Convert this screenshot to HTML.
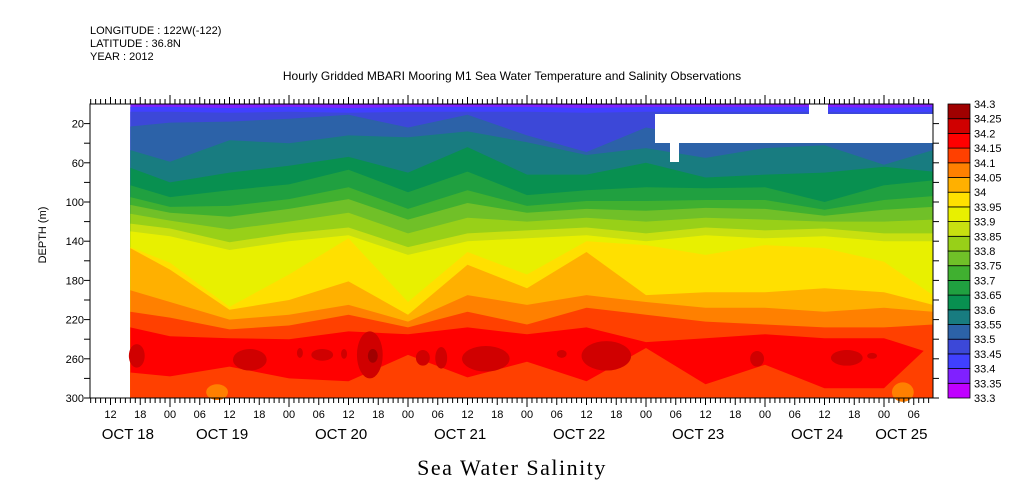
<!DOCTYPE html>
<html><head><meta charset="utf-8"><style>
html,body{margin:0;padding:0;background:#fff;}
svg{display:block;font-family:"Liberation Sans",sans-serif;}
</style></head><body>
<svg id="chart" width="1009" height="504" viewBox="0 0 1009 504">
<text x="90" y="34" font-size="11">LONGITUDE : 122W(-122)</text>
<text x="90" y="47" font-size="11">LATITUDE : 36.8N</text>
<text x="90" y="60" font-size="11">YEAR : 2012</text>
<text x="512" y="80" font-size="12" text-anchor="middle">Hourly Gridded MBARI Mooring M1 Sea Water Temperature and Salinity Observations</text>
<text x="512" y="475" font-size="22" text-anchor="middle" letter-spacing="1.5" font-family="Liberation Serif, serif">Sea Water Salinity</text>
<text transform="translate(46,235) rotate(-90)" font-size="11" text-anchor="middle">DEPTH (m)</text>
<g id="plot"></g>
<g id="axes"></g>
<g id="cbar"></g>
</svg>
<script>
// ---- data ----
const knotHours = [16,24,36,48,60,72,84,96,108,120,132,144,156,168,178];
const levels = [33.3,33.35,33.4,33.45,33.5,33.55,33.6,33.65,33.7,33.75,33.8,33.85,33.9,33.95,34,34.05,34.1,34.15,34.2,34.25,34.3];
const levelColors = ["#c000ff","#8020ff","#4040ff","#3c48d8","#2c62a8","#187c80","#089050","#20a040","#40b030","#70c028","#98d018","#c8e010","#e8f000","#ffe000","#ffb000","#ff8000","#ff4000","#ff0000","#d00000","#a00000"];
const iso3340 = [3,3,4,3,4,3,3,3,4,3,3,3,3,4,3];
const iso3345 = [8,8,9,8,9,8,8,8,9,8,8,8,8,9,8];
const iso3350 = [23,19,18,15,11,24,11,32,49,24,35,35,35,30,30];
const iso3355 = [47,59,37,40,32,34,28,39,52,45,55,45,42,62,47];
const iso3360 = [65,80,70,63,54,70,44,72,72,60,75,72,70,64,69];
const iso3365 = [83,95,88,82,67,90,69,93,88,85,86,85,100,83,78];
const iso3370 = [95,105,104,97,85,107,88,104,99,99,98,98,108,98,94];
const iso3375 = [103,111,115,107,97,118,101,111,107,109,106,107,114,108,105];
const iso3380 = [112,119,128,120,111,132,116,120,116,120,116,118,120,120,118];
const iso3385 = [122,127,141,132,126,146,132,129,126,132,126,129,127,132,132];
const iso3390 = [130,135,149,140,134,154,140,137,134,140,134,137,135,140,140];
const iso3395 = [146,162,207,174,137,202,151,174,140,144,154,144,147,161,195];
const iso3400 = [147,169,210,200,181,215,164,188,151,195,192,192,188,192,205];
const iso3405 = [190,202,220,215,205,222,195,205,195,202,208,208,212,208,212];
const iso3410 = [212,218,230,226,215,228,212,225,208,215,222,225,228,228,225];
const iso3415 = [228,237,239,240,232,235,228,235,228,243,239,235,239,239,255];
const redBottom = [274,278,268,280,283,256,279,263,283,249,286,266,290,290,243];
const coreHours = [17.3,40.1,50.2,54.7,59.1,64.3,64.9,75,78.7,87.7,103,112,142.4,160.5,165.6];
const coreDepths = [257,261,254,256,255,256,257,259,259,260,255,257,260,259,257];
const coreDur = [1.6,3.4,0.6,2.2,0.6,2.6,1.0,1.4,1.2,4.8,1.0,5.0,1.4,3.2,1.0];
const coreThick = [12,11,5,6,5,24,7,8,11,13,4,15,8,8,3];
const coreLevel = [18,18,18,18,18,18,19,18,18,18,18,18,18,18,18];
const patchHours = [33.5,171.8];
const patchDepths = [294,294];
const patchDur = [2.2,2.2];
const patchThick = [8,10];
const depthTicks = [20,60,100,140,180,220,260,300];
const hourLabels = ["12","18","00","06","12","18","00","06","12","18","00","06","12","18","00","06","12","18","00","06","12","18","00","06","12","18","00","06"];
const dayLabels = ["OCT 18","OCT 19","OCT 20","OCT 21","OCT 22","OCT 23","OCT 24","OCT 25"];
const dayLabelHours = [15.5,34.5,58.5,82.5,106.5,130.5,154.5,171.5];

// ---- scales ----
const X0=90, X1=933, Y0=104, Y1=398;
const xs = h => 51 + h*119/24;
const ys = d => Y0 + d*(Y1-Y0)/300;
const NS="http://www.w3.org/2000/svg";
const plot=document.getElementById('plot'), axes=document.getElementById('axes'), cbar=document.getElementById('cbar');
function mk(tag,attrs,parent){const e=document.createElementNS(NS,tag);for(const k in attrs)e.setAttribute(k,attrs[k]);parent.appendChild(e);return e;}

const xStart=xs(knotHours[0]), xEnd=X1;
let base=mk('rect',{x:xStart,y:Y0,width:xEnd-xStart,height:Y1-Y0,fill:levelColors[1]},plot);


const isos=[iso3340,iso3345,iso3350,iso3355,iso3360,iso3365,iso3370,iso3375,iso3380,iso3385,iso3390,iso3395,iso3400,iso3405,iso3410,iso3415];
function bandBelow(arr,color,name){
  let pts=knotHours.map((h,i)=>`${Math.min(xs(h),X1).toFixed(1)},${ys(arr[i]).toFixed(1)}`);
  pts.push(`${X1},${Y1}`,`${xStart},${Y1}`);
  const p=mk('polygon',{points:pts.join(' '),fill:color},plot);
  
  
}
isos.forEach((arr,k)=>bandBelow(arr,levelColors[k+2],'band-'+levels[k+2]));
bandBelow(redBottom,levelColors[16],'band-lower-34.1');
patchHours.forEach((h,i)=>{
  const e=mk('ellipse',{cx:xs(h),cy:ys(patchDepths[i]),rx:patchDur[i]*119/24,ry:patchThick[i]*0.98,fill:levelColors[15]},plot);
  
  
});
coreHours.forEach((h,i)=>{
  const e=mk('ellipse',{cx:xs(h),cy:ys(coreDepths[i]),rx:coreDur[i]*119/24,ry:coreThick[i]*0.98,fill:levelColors[coreLevel[i]]},plot);
  
  
});
[[655,114,278,29],[670,143,9,19],[809,104,19,10]].forEach(r=>{
  const e=mk('rect',{x:r[0],y:r[1],width:r[2],height:r[3],fill:'#fff'},plot);
  
  
});
let fr=mk('rect',{x:X0,y:Y0,width:X1-X0,height:Y1-Y0,fill:'none',stroke:'#000','stroke-width':1},axes);


for(let h=8;h<=178;h++){
  const x=xs(h); if(x<X0||x>X1) continue;
  const len = h%24===0?9:(h%6===0?7:5);
  mk('line',{x1:x,x2:x,y1:Y1,y2:Y1+len,stroke:'#000'},axes);
  mk('line',{x1:x,x2:x,y1:Y0,y2:Y0-len,stroke:'#000'},axes);
}
hourLabels.forEach((s,i)=>{
  const t=mk('text',{x:xs(12+6*i),y:418,'font-size':11,'text-anchor':'middle'},axes);t.textContent=s;
  
  
});
dayLabels.forEach((s,i)=>{
  const t=mk('text',{x:xs(dayLabelHours[i]),y:439,'font-size':15,'text-anchor':'middle'},axes);t.textContent=s;
  
  
});
for(let d=20;d<=300;d+=20){
  const y=ys(d);
  mk('line',{x1:X0-6,x2:X0,y1:y,y2:y,stroke:'#000'},axes);
  mk('line',{x1:X1,x2:X1+6,y1:y,y2:y,stroke:'#000'},axes);
}
depthTicks.forEach(d=>{
  const t=mk('text',{x:84,y:ys(d)+4,'font-size':11,'text-anchor':'end'},axes);t.textContent=d;
  
  
});
const cbH=(Y1-Y0)/20;
levelColors.forEach((c,i)=>{
  const r=mk('rect',{x:948,y:Y1-(i+1)*cbH,width:22,height:cbH,fill:c,stroke:'#000','stroke-width':0.8},cbar);
  
  
});
levels.forEach((v,i)=>{
  const t=mk('text',{x:974,y:Y1-i*cbH+4,'font-size':11},cbar);t.textContent=v;
  
  
});
</script>
</body></html>
